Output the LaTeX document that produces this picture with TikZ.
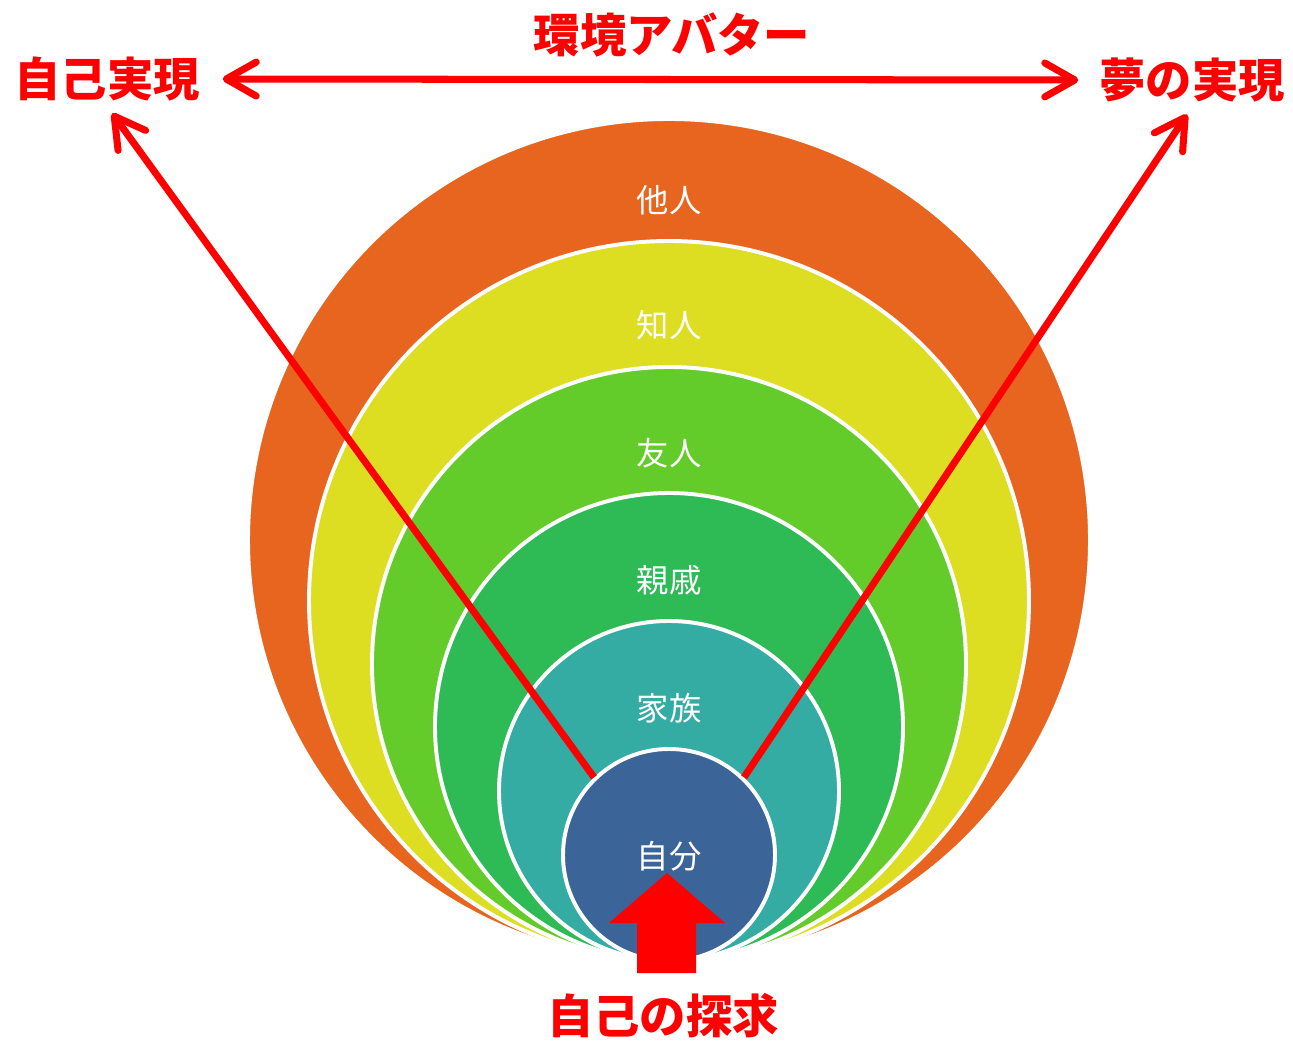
\documentclass[tikz,border=0pt]{standalone}
\usepackage{fontspec}
\setmainfont{Noto Sans CJK JP}
\usetikzlibrary{arrows.meta}
\definecolor{tanincol}{RGB}{232,101,31}
\definecolor{chijincol}{RGB}{221,222,34}
\definecolor{yujincol}{RGB}{99,204,42}
\definecolor{shinsekicol}{RGB}{46,186,85}
\definecolor{kazokucol}{RGB}{52,171,163}
\definecolor{jibuncol}{RGB}{59,100,153}
\tikzset{
  ring/.style={circle, draw=white, line width=2.8pt, inner sep=0pt},
  ringlabel/.style={text=white, font=\fontsize{23}{23}\selectfont},
  redlabel/.style={text=red, font=\fontsize{33}{33}\selectfont\bfseries},
  redarrow/.style={->, red, line width=5pt}
}
\begin{document}
\begin{tikzpicture}[>={Straight Barb[length=0.75cm, width=0.85cm, round]}]
\useasboundingbox (0,0) rectangle (32.325,26);

% rings, all touching at the bottom
\node[ring, fill=tanincol, minimum size=21.05cm] (Tanin) at (16.725,12.5) {};
\node[ring, fill=chijincol, minimum size=18cm] (Chijin) at (16.725,10.975) {};
\node[ring, fill=yujincol, minimum size=14.85cm] (Yujin) at (16.725,9.4) {};
\node[ring, fill=shinsekicol, minimum size=11.7cm] (Shinseki) at (16.725,7.825) {};
\node[ring, fill=kazokucol, minimum size=8.5cm] (Kazoku) at (16.725,6.225) {};
\node[ring, fill=jibuncol, minimum size=5.3cm] (Jibun) at (16.725,4.625) {};

\node[ringlabel] (TaninL) at (16.725,21.0) {他人};
\node[ringlabel] (ChijinL) at (16.725,17.875) {知人};
\node[ringlabel] (YujinL) at (16.725,14.675) {友人};
\node[ringlabel] (ShinsekiL) at (16.725,11.5) {親戚};
\node[ringlabel] (KazokuL) at (16.725,8.3) {家族};
\node[ringlabel] (JibunL) at (16.725,4.6) {自分};

\node[redlabel] (Jiko) at (2.675,24.025) {自己実現};
\node[redlabel] (Yume) at (29.8,24.0) {夢の実現};
\node[redlabel] (Avatar) at (16.8,25.125) {環境アバター};
\node[redlabel] (Tankyu) at (16.575,0.6) {自己の探求};

\path[redarrow, <->, shorten <=0.45cm, shorten >=0.4cm] (Jiko.east) edge node {} (Yume.west);
\path[redarrow, shorten >=0.22cm] (Jibun.134) edge node {} (Jiko.south);
\path[redarrow, shorten >=0.22cm] (Jibun.46) edge node {} (Yume.south);

% block arrow up into the centre
\fill[red] (15.925,1.675) -- (15.925,2.925) -- (15.225,2.925) -- (16.675,4.175)
  -- (18.125,2.925) -- (17.4,2.925) -- (17.4,1.675) -- cycle;
\end{tikzpicture}
\end{document}
